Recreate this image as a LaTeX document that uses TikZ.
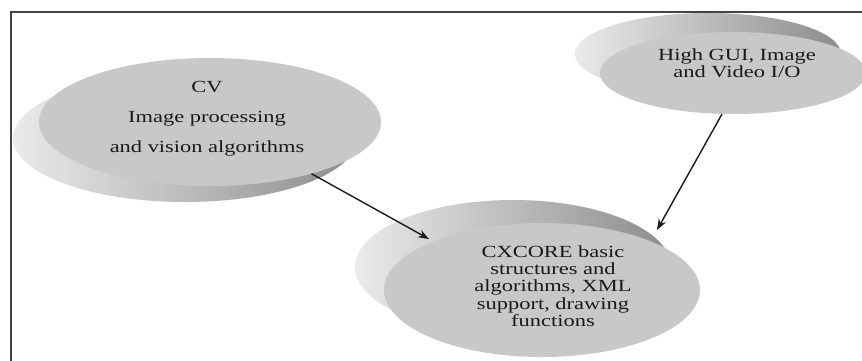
\documentclass[tikz,border=0pt]{standalone}
\usepackage{fontspec}
\setmainfont{Liberation Serif}[FakeStretch=1.32]
\usetikzlibrary{shapes.geometric,arrows.meta,calc}
\definecolor{frontgray}{RGB}{200,200,200}
\definecolor{backlight}{RGB}{234,234,234}
\definecolor{backdark}{RGB}{140,140,140}
\definecolor{framegray}{RGB}{68,68,68}
\definecolor{textgray}{RGB}{25,25,25}
\begin{document}
\begin{tikzpicture}[x=1pt,y=-1pt,
  front/.style={ellipse, fill=frontgray, inner sep=0pt},
  backdisc/.style={left color=backlight, right color=backdark},
  txt/.style={align=center, text=textgray, inner sep=0pt, font=\fontsize{17}{17.3}\selectfont},
  conn/.style={-{Stealth[length=11pt,width=8pt]}, line width=1.4pt, black!90},
  frameline/.style={line width=2pt, framegray}]
\clip (0,0) rectangle (862,360);
\fill[white] (0,0) rectangle (862,360);
% CV disc
\shade[backdisc] (185,138) ellipse [x radius=172, y radius=64];
\node[front, minimum width=342, minimum height=128] (cv) at (210,122) {};
\node[txt, font=\fontsize{17}{30}\selectfont] (cvtext) at (207,119) {CV\\Image processing\\and vision algorithms};
% High GUI disc
\shade[backdisc] (708,54) ellipse [x radius=133, y radius=41];
\node[front, minimum width=266, minimum height=82] (gui) at (733,73) {};
\node[txt] (guitext) at (737,63) {High GUI, Image\\and Video I/O};
% CXCORE disc
\shade[backdisc] (513,267) ellipse [x radius=158, y radius=67];
\node[front, minimum width=316, minimum height=134] (core) at (542,290) {};
\node[txt] (coretext) at (553,286) {CXCORE basic\\structures and\\algorithms, XML\\support, drawing\\functions};
% connectors
\coordinate (tip1) at ($(core.center)+(-113,-51)$);
\coordinate (tip2) at ($(core.center)+(115,-60)$);
\draw[conn] (cv.333) -- (tip1);
\draw[conn] (gui.255) -- (tip2);
% frame
\draw[frameline] (11,362) -- (11,12) -- (864,12);
\end{tikzpicture}
\end{document}
